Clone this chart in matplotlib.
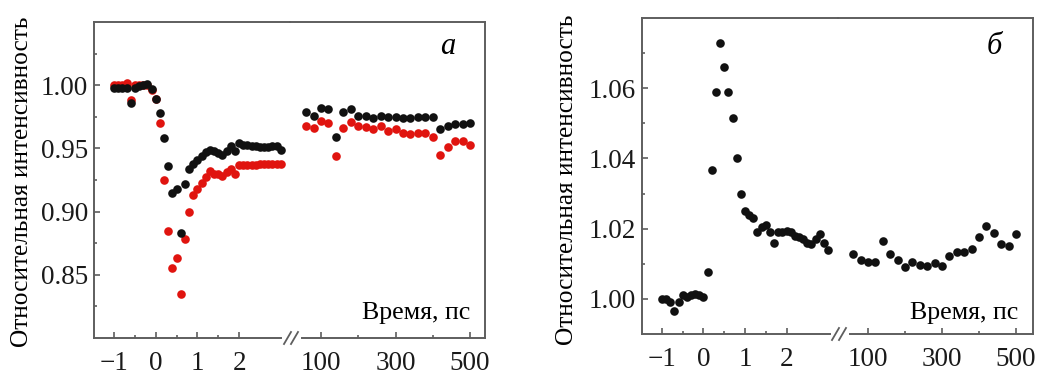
import matplotlib
matplotlib.use('Agg')
import matplotlib.pyplot as plt
from matplotlib.ticker import FormatStrFormatter, FixedLocator
from matplotlib.lines import Line2D

plt.rcParams['font.family'] = ['Liberation Serif', 'DejaVu Serif']
plt.rcParams['axes.unicode_minus'] = True

W, H = 1039, 376
FRAME = '#5e5e5e'

# ---- panel a: relative intensity, black and red series ----
t_short = [-1.0, -0.9, -0.8, -0.7, -0.6, -0.5, -0.4, -0.3, -0.2, -0.1,
           0.0, 0.1, 0.2, 0.3, 0.4, 0.5, 0.6, 0.7, 0.8, 0.9,
           1.0, 1.1, 1.2, 1.3, 1.4, 1.5, 1.6, 1.7, 1.8, 1.9,
           2.0, 2.1, 2.2, 2.3, 2.4, 2.5, 2.6, 2.7, 2.8, 2.9, 3.0]
t_long = [60, 80, 100, 120, 140, 160, 180, 200, 220, 240, 260, 280,
          300, 320, 340, 360, 380, 400, 420, 440, 460, 480, 500]

a_black_short = [0.998, 0.998, 0.998, 0.998, 0.986, 0.998, 0.999, 1.000, 1.001, 0.997,
                 0.989, 0.978, 0.958, 0.936, 0.915, 0.918, 0.883, 0.922, 0.934, 0.938,
                 0.941, 0.944, 0.947, 0.949, 0.948, 0.946, 0.945, 0.948, 0.952, 0.948,
                 0.954, 0.953, 0.953, 0.952, 0.952, 0.951, 0.951, 0.951, 0.952, 0.952, 0.949]
a_red_short = [1.000, 1.000, 1.000, 1.002, 0.988, 1.000, 1.000, 1.000, 1.000, 0.996,
               0.989, 0.970, 0.925, 0.885, 0.855, 0.863, 0.835, 0.878, 0.900, 0.913,
               0.918, 0.923, 0.927, 0.932, 0.930, 0.930, 0.928, 0.931, 0.934, 0.930,
               0.937, 0.937, 0.937, 0.937, 0.937, 0.938, 0.938, 0.938, 0.938, 0.938, 0.938]
a_black_long = [0.979, 0.976, 0.982, 0.981, 0.959, 0.979, 0.981, 0.976, 0.976, 0.974,
                0.976, 0.975, 0.975, 0.974, 0.974, 0.975, 0.975, 0.975, 0.965, 0.968,
                0.969, 0.969, 0.970]
a_red_long = [0.968, 0.966, 0.972, 0.970, 0.944, 0.966, 0.971, 0.968, 0.967, 0.965,
              0.968, 0.964, 0.965, 0.962, 0.961, 0.962, 0.962, 0.959, 0.945, 0.951,
              0.956, 0.956, 0.953]

# ---- panel b ----
b_short = [1.000, 1.000, 0.999, 0.9966, 0.999, 1.001, 1.0006, 1.001, 1.0014, 1.001,
           1.0006, 1.0077, 1.0367, 1.059, 1.073, 1.066, 1.059, 1.0515, 1.040, 1.030,
           1.025, 1.024, 1.023, 1.019, 1.0205, 1.021, 1.019, 1.016, 1.019, 1.019,
           1.0194, 1.019, 1.018, 1.0176, 1.017, 1.016, 1.0157, 1.017, 1.0185, 1.016, 1.014]
b_long = [1.0128, 1.011, 1.0105, 1.0105, 1.0165, 1.0128, 1.011, 1.009, 1.0105, 1.0097,
          1.0094, 1.0102, 1.0094, 1.0122, 1.0134, 1.0134, 1.0142, 1.0176, 1.0208, 1.0188,
          1.0156, 1.015, 1.0185]

short_ticks = [-1, 0, 1, 2]
short_minor = [-0.5, 0.5, 1.5]
long_ticks = [100, 300, 500]
long_minor = [200, 400]

fig = plt.figure(figsize=(W / 100, H / 100), dpi=100)


def box(x0, x1, y0, y1):
    return [x0 / W, 1 - y1 / H, (x1 - x0) / W, (y1 - y0) / H]


def style(ax):
    for s in ax.spines.values():
        s.set_color(FRAME)
        s.set_linewidth(1.4)
    ax.tick_params(which='both', direction='in', color=FRAME, top=False, right=False,
                   labelsize=19.5, labelcolor='#1a1a1a')
    ax.tick_params(which='major', length=4, width=1.2)
    ax.tick_params(which='minor', length=2.5, width=1.2)
    ax.tick_params(axis='x', pad=9.5)
    ax.tick_params(axis='y', pad=4.5)


def panel(x0, xb, x1, y0, y1, xl_s, xl_l, gap_s, gap_l, ylim, yticks, yminor, yfmt):
    axs = fig.add_axes(box(x0, xb, y0, y1))
    axl = fig.add_axes(box(xb, x1, y0, y1), sharey=axs)
    for ax in (axs, axl):
        style(ax)
        ax.set_facecolor('none')
    axs.set_xlim(*xl_s)
    axl.set_xlim(*xl_l)
    axs.set_ylim(*ylim)
    axs.spines['right'].set_visible(False)
    axl.spines['left'].set_visible(False)
    axs.spines['bottom'].set_bounds(xl_s[0], gap_s)
    axl.spines['bottom'].set_bounds(gap_l, xl_l[1])
    axs.xaxis.set_major_locator(FixedLocator(short_ticks))
    axs.xaxis.set_minor_locator(FixedLocator(short_minor))
    axl.xaxis.set_major_locator(FixedLocator(long_ticks))
    axl.xaxis.set_minor_locator(FixedLocator(long_minor))
    axs.yaxis.set_major_locator(FixedLocator(yticks))
    axs.yaxis.set_minor_locator(FixedLocator(yminor))
    axs.yaxis.set_major_formatter(FormatStrFormatter(yfmt))
    axl.tick_params(axis='y', which='both', left=False, labelleft=False)
    # break marks
    for dx in (-6, 1):
        fig.add_artist(Line2D([(xb + dx) / W, (xb + dx + 7) / W],
                              [1 - (y1 + 6) / H, 1 - (y1 - 6) / H],
                              color=FRAME, lw=1.3))
    return axs, axl


ms = 6.2

# panel a
a_s, a_l = panel(94, 290, 485, 22, 338, (-1.48, 3.22), (16.8, 540), 3.0, 50,
                 (0.80, 1.05), [0.85, 0.90, 0.95, 1.00],
                 [0.825, 0.875, 0.925, 0.975, 1.025], '%.2f')
a_s.plot(t_short, a_red_short, 'o', color='#e0140f', ms=ms, mec='none')
a_s.plot(t_short, a_black_short, 'o', color='#111111', ms=ms, mec='none')
a_l.plot(t_long, a_red_long, 'o', color='#e0140f', ms=ms, mec='none', clip_on=False)
a_l.plot(t_long, a_black_long, 'o', color='#111111', ms=ms, mec='none', clip_on=False)
fig.text(448 / W, 1 - 47 / H, 'а', fontsize=22, style='italic', ha='center', va='center')
fig.text(470 / W, 1 - 313 / H, 'Время, пс', fontsize=18.7, ha='right', va='center')
fig.text(22 / W, 1 - 182 / H, 'Относительная интенсивность', fontsize=18.3,
         rotation=90, ha='center', va='center')

# panel b
b_s, b_l = panel(642, 838, 1033, 18, 334, (-1.48, 3.24), (19, 546), 3.05, 52,
                 (0.99, 1.08), [1.00, 1.02, 1.04, 1.06],
                 [1.01, 1.03, 1.05, 1.07], '%.2f')
b_s.plot(t_short, b_short, 'o', color='#111111', ms=ms, mec='none')
b_l.plot(t_long, b_long, 'o', color='#111111', ms=ms, mec='none', clip_on=False)
fig.text(994 / W, 1 - 47 / H, 'б', fontsize=22, style='italic', ha='center', va='center')
fig.text(1018 / W, 1 - 313 / H, 'Время, пс', fontsize=18.7, ha='right', va='center')
fig.text(567 / W, 1 - 180 / H, 'Относительная интенсивность', fontsize=18.3,
         rotation=90, ha='center', va='center')

fig.savefig('out.png', dpi=100, facecolor='white')
